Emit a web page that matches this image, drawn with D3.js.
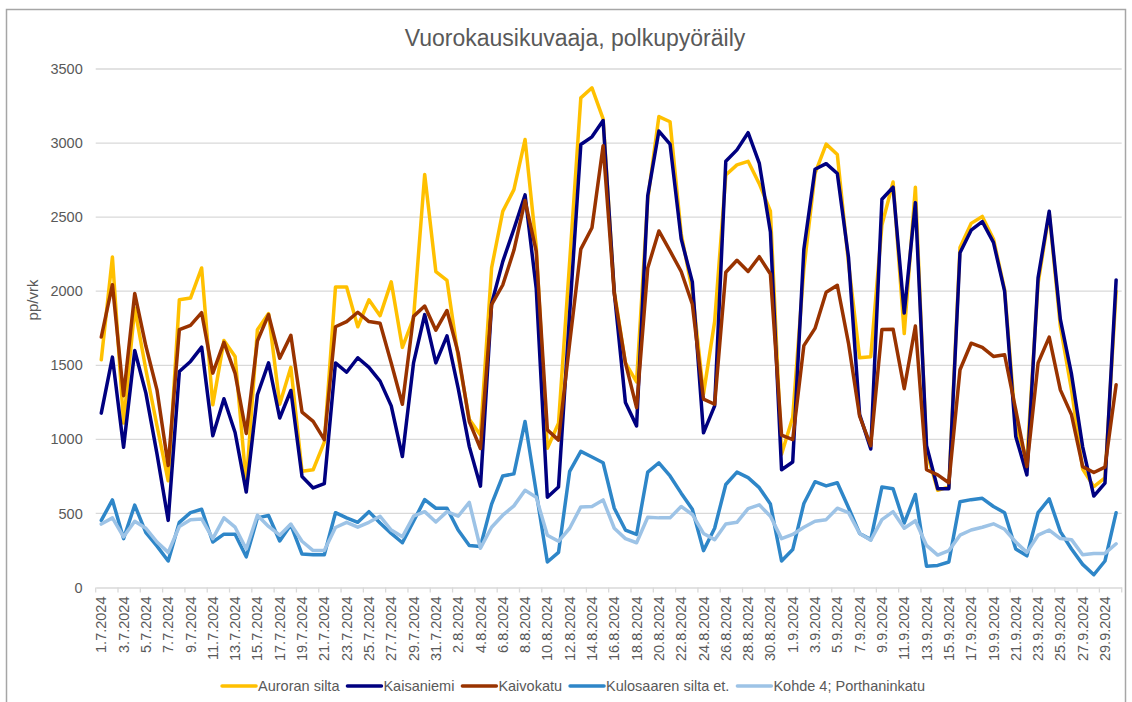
<!DOCTYPE html>
<html>
<head>
<meta charset="utf-8">
<script src="https://cdn.jsdelivr.net/npm/d3@7"></script>
<style>
  html, body { margin: 0; padding: 0; background: #fff; }
  svg { display: block; }
  text { font-family: "Liberation Sans", Arial, sans-serif; fill: #595959; }
</style>
</head>
<body>
<svg id="chart" width="1132" height="702"></svg>
<script>
const title = "Vuorokausikuvaaja, polkupyöräily";
const yTitle = "pp/vrk";

// 1.7.2024 … 30.9.2024
const months = [[7, 31], [8, 31], [9, 30]];
const dates = [];
months.forEach(([m, n]) => { for (let d = 1; d <= n; d++) dates.push(d + "." + m + ".2024"); });

const yTicks = [0, 500, 1000, 1500, 2000, 2500, 3000, 3500];

const seriesNames = ["Auroran silta", "Kaisaniemi", "Kaivokatu", "Kulosaaren silta et.", "Kohde 4; Porthaninkatu"];
const seriesColors = ["#FFC000", "#000080", "#993300", "#2E86C8", "#9DC3E6"];

const auroranSilta = [1537,2231,1110,1886,1470,1090,720,1943,1954,2157,1233,1668,1560,700,1740,1849,1237,1486,784,795,981,2028,2028,1760,1942,1835,2063,1621,1819,2788,2133,2073,1560,1135,1030,2157,2539,2686,3024,2303,940,1109,2200,3305,3373,3163,2000,1516,1388,2620,3179,3144,2388,2000,1307,1795,2784,2853,2877,2726,2540,900,1150,2150,2795,2993,2923,2191,1551,1558,2447,2737,1714,2702,920,656,679,2295,2458,2505,2353,2010,1087,860,2053,2528,1762,1334,800,681,740,2000];
const kaisaniemi = [1177,1555,947,1600,1312,900,453,1458,1526,1623,1024,1274,1046,644,1301,1516,1144,1330,749,672,702,1516,1453,1551,1486,1393,1226,884,1516,1842,1516,1699,1346,951,684,1915,2200,2420,2650,2020,609,679,1850,2990,3042,3152,1993,1249,1091,2644,3081,2993,2353,2063,1044,1226,2877,2954,3070,2865,2400,795,847,2284,2823,2861,2795,2230,1167,935,2621,2702,1853,2598,958,667,667,2260,2412,2470,2330,2000,1020,760,2090,2540,1810,1440,950,617,704,2076];
const kaivokatu = [1691,2044,1295,1985,1630,1332,824,1740,1770,1855,1447,1655,1445,1040,1664,1842,1547,1702,1184,1121,998,1760,1795,1858,1795,1784,1516,1237,1830,1900,1737,1870,1584,1120,938,1910,2042,2276,2612,2270,1064,995,1650,2284,2428,2982,1981,1516,1214,2156,2407,2272,2133,1912,1272,1237,2128,2209,2133,2233,2116,1028,998,1633,1749,1993,2040,1650,1156,958,1742,1744,1342,1765,795,760,707,1470,1649,1621,1560,1571,1199,816,1515,1690,1334,1166,816,776,813,1368];
const kulosaari = [453,591,330,556,370,279,179,440,505,528,307,360,360,207,470,486,314,423,226,221,221,505,470,440,512,435,365,302,447,593,535,535,388,284,277,563,753,767,1121,644,172,237,784,919,881,842,535,388,358,779,842,753,637,528,249,400,695,779,742,674,563,179,256,567,714,686,707,540,365,323,679,667,435,628,144,149,172,579,593,602,547,505,260,214,505,598,377,260,156,86,179,505];
const porthaninkatu = [428,470,342,447,400,307,237,412,458,463,330,470,407,260,488,412,353,428,312,249,249,405,440,407,440,481,388,342,481,512,442,512,481,574,265,407,488,551,656,609,353,312,400,544,547,591,400,330,302,474,470,470,547,493,365,323,428,440,533,558,481,330,358,407,447,458,535,505,365,319,458,512,400,451,284,219,249,353,388,407,430,393,307,237,353,388,330,323,221,230,230,295];

const seriesValues = [auroranSilta, kaisaniemi, kaivokatu, kulosaari, porthaninkatu];

const svg = d3.select("#chart");
const m = { left: 95.7, right: 1121.7, top: 69, bottom: 587.5 };

// chart border
svg.append("rect").attr("x", 6.5).attr("y", 9.5).attr("width", 1119).attr("height", 700)
  .attr("fill", "#fff").attr("stroke", "#A6A6A6").attr("stroke-width", 1.5);

const x = d3.scaleBand().domain(dates).range([m.left, m.right]).paddingInner(0).paddingOuter(0);
const y = d3.scaleLinear().domain([0, 3500]).range([m.bottom, m.top]);

// gridlines
svg.append("g").selectAll("line").data(yTicks.filter(v => v > 0)).join("line")
  .attr("x1", m.left).attr("x2", m.right)
  .attr("y1", d => y(d)).attr("y2", d => y(d))
  .attr("stroke", "#D9D9D9").attr("stroke-width", 1.3);

// y axis labels
const yAxis = d3.axisLeft(y).tickValues(yTicks).tickFormat(d3.format("d")).tickSize(0).tickPadding(13);
const gy = svg.append("g").attr("transform", `translate(${m.left},0)`).call(yAxis);
gy.select(".domain").remove();
gy.selectAll("text").attr("font-size", "14.5px").style("font-family", '"Liberation Sans", Arial, sans-serif').attr("fill", "#595959");

// x axis
const labelDates = dates.filter((d, i) => i % 2 === 0);
const xAxis = d3.axisBottom(x).tickValues(labelDates).tickSize(0).tickPadding(0);
const gx = svg.append("g").attr("transform", `translate(0,${m.bottom})`).call(xAxis);
gx.select(".domain").attr("stroke", "#D9D9D9").attr("stroke-width", 1.3);
gx.selectAll("text")
  .attr("font-size", "14.5px").style("font-family", '"Liberation Sans", Arial, sans-serif').attr("fill", "#595959")
  .attr("transform", "rotate(-90)")
  .attr("text-anchor", "end")
  .attr("dy", "0.35em")
  .attr("x", -9).attr("y", 0);
// tick marks at category boundaries every 2 days
const boundaries = d3.range(0, dates.length + 1, 2);
svg.append("g").selectAll("line").data(boundaries).join("line")
  .attr("x1", i => m.left + i * x.bandwidth()).attr("x2", i => m.left + i * x.bandwidth())
  .attr("y1", m.bottom).attr("y2", m.bottom + 5)
  .attr("stroke", "#D9D9D9").attr("stroke-width", 1.3);

// lines
const line = d3.line().x((d, i) => x(dates[i]) + x.bandwidth() / 2).y(d => y(d));
seriesValues.forEach((vals, k) => {
  svg.append("path").datum(vals)
    .attr("d", line)
    .attr("fill", "none")
    .attr("stroke", seriesColors[k])
    .attr("stroke-width", 3.5)
    .attr("stroke-linejoin", "round")
    .attr("stroke-linecap", "round");
});

// title
svg.append("text").attr("x", 575).attr("y", 45.5).attr("text-anchor", "middle")
  .attr("font-size", "23px").text(title);

// y title
svg.append("text").attr("transform", "translate(38,300) rotate(-90)").attr("text-anchor", "middle")
  .attr("font-size", "15px").text(yTitle);

// legend
const lg = svg.append("g");
let cx = 0;
seriesNames.forEach((name, k) => {
  const g = lg.append("g");
  g.append("line").attr("x1", cx).attr("x2", cx + 34).attr("y1", 0).attr("y2", 0)
    .attr("stroke", seriesColors[k]).attr("stroke-width", 3.5).attr("stroke-linecap", "round");
  const t = g.append("text").attr("x", cx + 36).attr("y", 0).attr("dy", "0.35em")
    .attr("font-size", "14.5px").text(name);
  const w = t.node().getComputedTextLength();
  cx += 36 + w + 8;
});
const total = cx - 8;
lg.attr("transform", `translate(${573.5 - total / 2},686)`);
</script>
</body>
</html>
